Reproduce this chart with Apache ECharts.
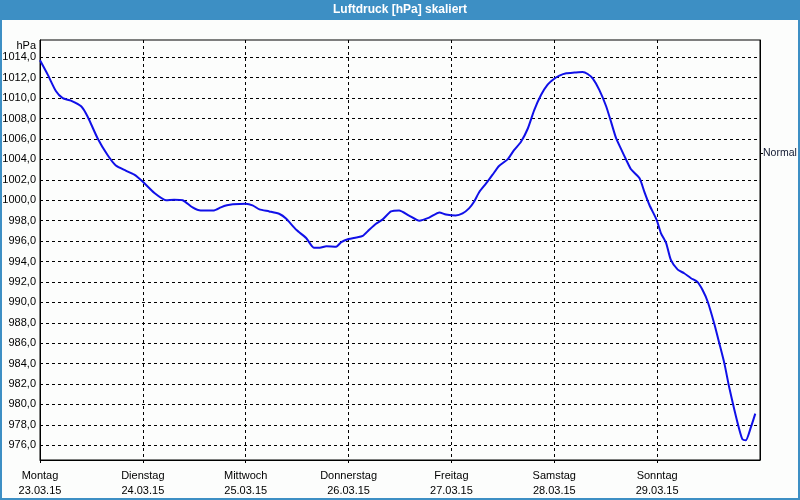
<!DOCTYPE html>
<html>
<head>
<meta charset="utf-8">
<script src="https://cdn.jsdelivr.net/npm/echarts@6/dist/echarts.min.js"></script>
<style>
html,body{margin:0;padding:0;background:#fcfdfc;}
#wrap{position:relative;width:800px;height:500px;}
#chart{width:800px;height:500px;}
#frame{position:absolute;left:0;top:0;width:800px;height:500px;box-sizing:border-box;border:2px solid #3d8fc4;border-top:none;pointer-events:none;}
</style>
</head>
<body>
<div id="wrap"><div id="chart"></div><div id="frame"></div></div>
<script>
// Data (hours since Mon 23.03.15 00:00, pressure in hPa)
const hours = [0,1.8,3.7,5.3,7.2,9.6,11.1,13.4,15.8,17.7,20.0,22.0,24.0,26.7,29.4,31.3,33.3,35.6,37.5,40.6,42.2,43.6,45.0,48.0,49.6,51.2,53.5,55.9,57.4,59.8,62.1,63.9,65.3,66.8,69.1,70.3,72.0,73.8,75.3,76.8,78.4,79.9,81.9,83.8,86.1,88.5,90.8,93.2,94.7,97.0,98.6,100.1,101.2,102.5,104.0,105.6,107.1,109.1,110.6,112.2,113.8,115.3,116.9,118.4,120.0,121.2,122.8,124.7,126.6,127.8,129.0,130.5,132.1,133.3,134.4,135.6,136.8,137.9,139.9,141.0,142.2,143.9,144.9,146.1,147.2,148.8,150.3,151.9,153.4,154.6,155.8,157.3,158.5,159.7,160.8,162.0,163.2,163.9,164.7,165.9,166.9];
const pressure = [1013.7,1012.3,1010.7,1010.0,1009.75,1009.2,1008.2,1006.1,1004.4,1003.4,1002.9,1002.5,1001.8,1000.7,1000.0,1000.05,1000.0,999.3,999.0,999.0,999.3,999.5,999.6,999.66,999.5,999.1,998.9,998.65,998.2,997.1,996.3,995.35,995.35,995.5,995.45,995.9,996.2,996.35,996.5,997.1,997.7,998.1,998.9,999.0,998.5,998.0,998.3,998.8,998.6,998.5,998.7,999.2,999.8,1000.8,1001.6,1002.5,1003.35,1004.0,1004.9,1005.7,1007.0,1008.8,1010.3,1011.3,1011.9,1012.2,1012.43,1012.5,1012.56,1012.36,1011.9,1010.8,1009.2,1007.6,1006.1,1005.0,1003.94,1003.03,1002.15,1000.84,999.53,998.06,996.76,995.8,994.15,993.2,992.85,992.36,992.0,991.2,990.06,987.95,986.0,984.0,981.7,979.5,977.5,976.6,976.5,977.8,979.1];
const weekdays = ['Montag','Dienstag','Mittwoch','Donnerstag','Freitag','Samstag','Sonntag'];
const dates = ['23.03.15','24.03.15','25.03.15','26.03.15','27.03.15','28.03.15','29.03.15'];
const dayTicks = [0,24,48,72,96,120,144];
const yTicks = [976,978,980,982,984,986,988,990,992,994,996,998,1000,1002,1004,1006,1008,1010,1012,1014];
const normalValue = [1004.6];
const normalLabel = 'Normal';
const titleText = 'Luftdruck [hPa] skaliert';
const unitText = 'hPa';

const font = 'Liberation Sans, Arial, sans-serif';
const chart = echarts.init(document.getElementById('chart'));
chart.setOption({
  animation: false,
  backgroundColor: '#fcfdfc',
  graphic: [
    {type:'rect', left:0, top:0, shape:{width:800, height:20}, style:{fill:'#3d8fc4'}, z:10},
    {type:'text', left:'center', top:4, style:{text:titleText, fill:'#ffffff', font:'bold 12px Liberation Sans, Arial, sans-serif'}, z:11}
  ],
  grid: {left:40, right:40, top:40, bottom:40, outerBoundsMode:'none', containLabel:false, show:true, borderColor:'#000', borderWidth:1, backgroundColor:'transparent'},
  xAxis: {
    type:'value', min:0, max:168,
    axisLine:{show:true, lineStyle:{color:'#000', width:1}},
    axisTick:{show:true, length:3, customValues:dayTicks, lineStyle:{color:'#000'}},
    axisLabel:{customValues:dayTicks, margin:8, color:'#000', fontFamily:font, fontSize:11, lineHeight:15,
      formatter:function(v){const i=Math.round(v/24); return weekdays[i]+'\n'+dates[i];}},
    splitLine:{show:true, lineStyle:{color:'#000', type:[3,3], width:1}}
  },
  yAxis: [{
    type:'value', min:974.56, max:1015.69,
    name:unitText, nameLocation:'end', nameGap:-12,
    nameTextStyle:{align:'right', color:'#000', fontFamily:font, fontSize:11, padding:[0,4,0,0]},
    axisLine:{show:true, lineStyle:{color:'#000', width:1}},
    axisTick:{show:false, customValues:yTicks},
    axisLabel:{customValues:yTicks, margin:4, color:'#000', fontFamily:font, fontSize:11, padding:[10,0,0,0],
      formatter:function(v){return v.toFixed(1).replace('.',',');}},
    splitLine:{show:true, lineStyle:{color:'#000', type:[3,3], width:1}}
  },{
    type:'value', min:974.56, max:1015.69, position:'right',
    axisLine:{show:true, lineStyle:{color:'#000', width:1}},
    axisTick:{show:true, length:3, customValues:normalValue, lineStyle:{color:'#000'}},
    axisLabel:{customValues:normalValue, margin:3, color:'#101830', fontFamily:font, fontSize:10.5, padding:[3,0,0,0],
      formatter:function(){return normalLabel;}},
    splitLine:{show:false}
  }],
  series: [{
    type:'line', yAxisIndex:0,
    data: hours.map((h,i)=>[h, pressure[i]]),
    showSymbol:false, smooth:0.2,
    lineStyle:{color:'#1010e8', width:2}
  }]
});
</script>
</body>
</html>
